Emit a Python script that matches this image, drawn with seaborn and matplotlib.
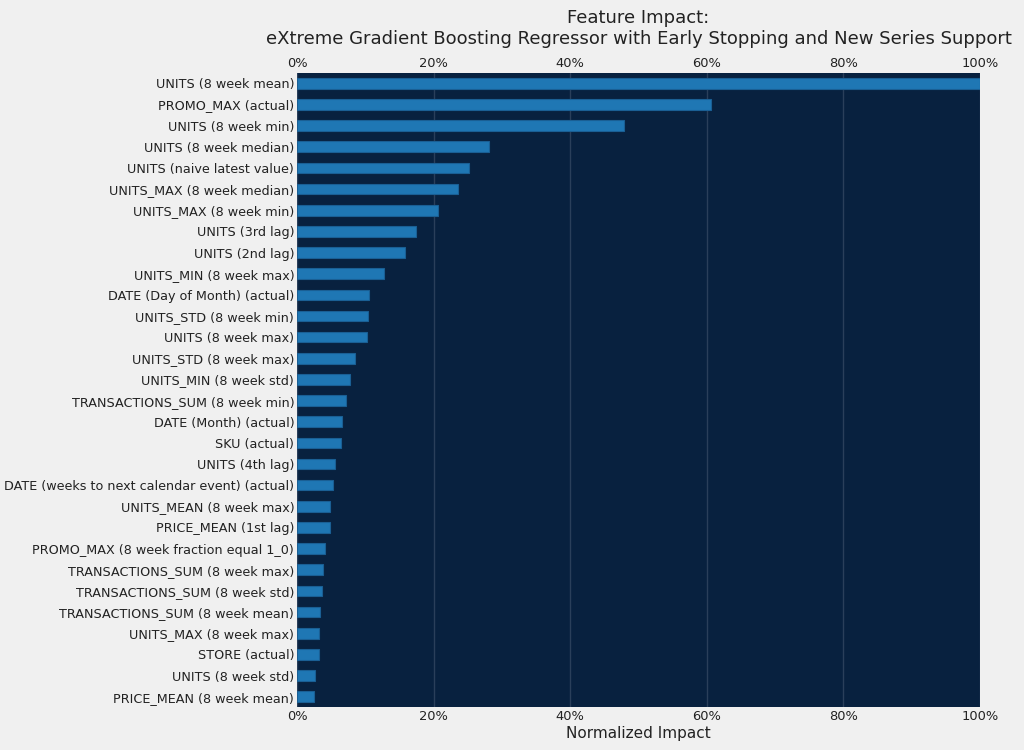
import matplotlib
matplotlib.use("Agg")
import matplotlib.pyplot as plt
import seaborn as sns
import pandas as pd
from matplotlib.ticker import PercentFormatter

features = [
    "UNITS (8 week mean)", "PROMO_MAX (actual)", "UNITS (8 week min)",
    "UNITS (8 week median)", "UNITS (naive latest value)", "UNITS_MAX (8 week median)",
    "UNITS_MAX (8 week min)", "UNITS (3rd lag)", "UNITS (2nd lag)",
    "UNITS_MIN (8 week max)", "DATE (Day of Month) (actual)", "UNITS_STD (8 week min)",
    "UNITS (8 week max)", "UNITS_STD (8 week max)", "UNITS_MIN (8 week std)",
    "TRANSACTIONS_SUM (8 week min)", "DATE (Month) (actual)", "SKU (actual)",
    "UNITS (4th lag)", "DATE (weeks to next calendar event) (actual)",
    "UNITS_MEAN (8 week max)", "PRICE_MEAN (1st lag)",
    "PROMO_MAX (8 week fraction equal 1_0)", "TRANSACTIONS_SUM (8 week max)",
    "TRANSACTIONS_SUM (8 week std)", "TRANSACTIONS_SUM (8 week mean)",
    "UNITS_MAX (8 week max)", "STORE (actual)", "UNITS (8 week std)",
    "PRICE_MEAN (8 week mean)",
]
impact = [
    1.000, 0.606, 0.479, 0.281, 0.252, 0.236, 0.206, 0.175, 0.158, 0.128,
    0.105, 0.1035, 0.1025, 0.085, 0.077, 0.072, 0.066, 0.064, 0.055, 0.053,
    0.049, 0.048, 0.041, 0.038, 0.037, 0.034, 0.033, 0.033, 0.027, 0.0245,
]

df = pd.DataFrame({"feature": features, "impact": impact})

sns.set_style("white")
plt.rcParams["font.family"] = ["DejaVu Sans"]

fig = plt.figure(figsize=(10.24, 7.5), dpi=100, facecolor="#f0f0f0")
ax = fig.add_axes([0.29, 0.057, 0.667, 0.846])
ax.set_facecolor("#08213f")

sns.barplot(data=df, y="feature", x="impact", orient="h", color="#1f77b4",
            saturation=1, width=0.5, edgecolor="#1a5f94", linewidth=0.8, ax=ax, zorder=3)

ax.set_xlim(0, 1)
ax.xaxis.set_major_formatter(PercentFormatter(1.0, decimals=0))
ax.set_xticks([0, 0.2, 0.4, 0.6, 0.8, 1.0])
ax.grid(axis="x", color="#2a3f5a", linewidth=1, zorder=0)
ax.grid(axis="y", visible=False)
ax.set_axisbelow(True)
ax.tick_params(axis="x", which="both", top=True, labeltop=True, bottom=True,
               labelbottom=True, length=0, labelsize=9.4, colors="#222222", pad=2)
ax.tick_params(axis="y", length=0, labelsize=9.2, colors="#222222", pad=2)
for s in ax.spines.values():
    s.set_visible(False)
ax.set_ylabel("")
ax.set_xlabel("Normalized Impact", fontsize=11, color="#222222", labelpad=2)
ax.set_title("Feature Impact:\neXtreme Gradient Boosting Regressor with Early Stopping and New Series Support",
             fontsize=13, color="#222222", pad=21, linespacing=1.15)

fig.savefig("out.png", dpi=100, facecolor=fig.get_facecolor())
